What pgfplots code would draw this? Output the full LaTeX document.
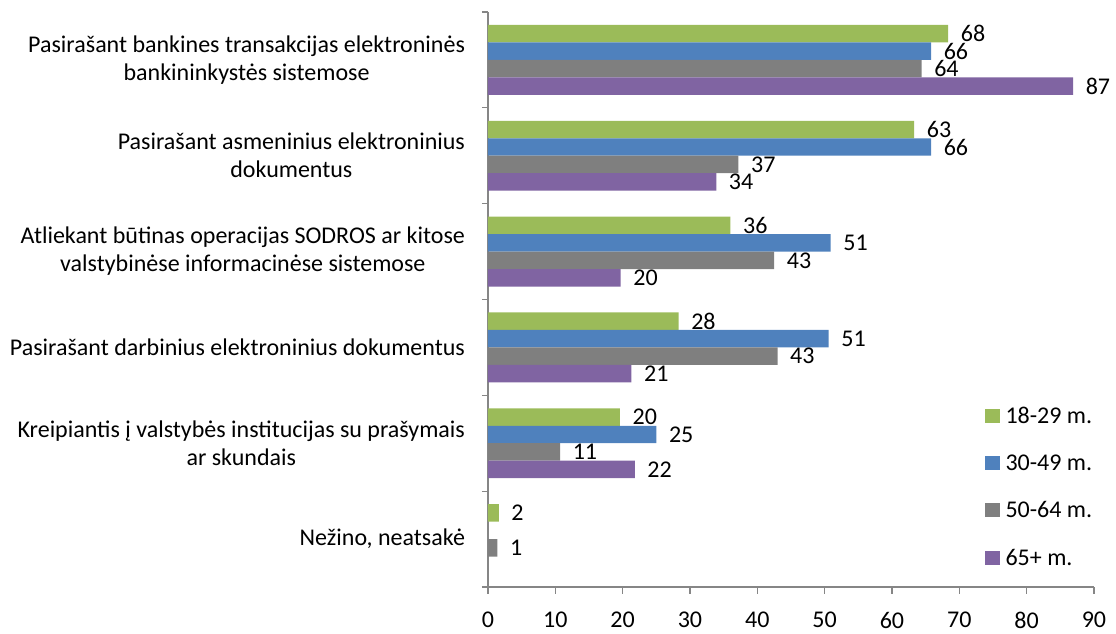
\documentclass[border=0pt]{standalone}
\usepackage{pgfplots}
\pgfplotsset{compat=1.18}
\usepackage{fontspec}
\setmainfont{Carlito}
\definecolor{cg}{HTML}{9BBB59}
\definecolor{cb}{HTML}{4F81BD}
\definecolor{cy}{HTML}{7F7F7F}
\definecolor{cp}{HTML}{8064A2}
\definecolor{axc}{HTML}{868686}
\begin{document}
\begin{tikzpicture}
\useasboundingbox (-366pt,-35.25pt) rectangle (471pt,440.25pt);
\begin{axis}[
  at={(0pt,0pt)}, anchor=south west,
  scale only axis, width=454.5pt, height=431.25pt,
  xbar, bar width=13.1pt,
  xmin=0, xmax=90, ymin=-0.5, ymax=5.5,
  xtick={0,10,...,90},
  ytick={0,...,5},
  minor ytick={-0.5,0.5,...,5.5},
  yticklabels={{Nežino, neatsakė},{Kreipiantis į valstybės institucijas su prašymais\\ar skundais},{Pasirašant darbinius elektroninius dokumentus},{Atliekant būtinas operacijas SODROS ar kitose\\valstybinėse informacinėse sistemose},{Pasirašant asmeninius elektroninius\\dokumentus},{Pasirašant bankines transakcijas elektroninės\\bankininkystės sistemose}},
  axis x line*=bottom, axis y line*=left,
  axis line style={axc, line width=0.9pt},
  tick align=outside,
  major tick length=5.25pt, minor tick length=4.5pt,
  major y tick style={draw=none},
  minor y tick style={axc, line width=0.9pt},
  major x tick style={axc, line width=0.9pt},
  /pgf/number format/assume math mode=true,
  ticklabel style={font=\fontsize{18}{21}\selectfont, text=black},
  yticklabel style={align=center, font=\fontsize{18}{21}\selectfont, xshift=-8.5pt},
  xticklabel style={yshift=-10pt},
  point meta=explicit symbolic,
  nodes near coords,
  nodes near coords style={font=\fontsize{18}{21}\selectfont, anchor=west, xshift=6pt, text=black},
  legend style={at={(0.8195,0.314)}, anchor=north west, draw=none, fill=none,
    font=\fontsize{18}{21}\selectfont, row sep=22pt, inner sep=0pt,
    nodes={inner sep=0pt}},
  legend cell align=left,
  legend image code/.code={\fill[#1] (0pt,-5.25pt) rectangle (11pt,5.25pt); \path (15.5pt,0pt);},
]
\addplot[fill=cg, draw=none, bar shift=19.65pt] table[x=x,y=y,meta=l] {
x y l
68.35 5 68
63.3 4 63
36.0 3 36
28.3 2 28
19.6 1 20
1.6 0 2
};
\addplot[fill=cb, draw=none, bar shift=6.55pt] table[x=x,y=y,meta=l] {
x y l
65.8 5 66
65.8 4 66
50.9 3 51
50.6 2 51
25.0 1 25
};
\addplot[fill=cy, draw=none, bar shift=-6.55pt] table[x=x,y=y,meta=l] {
x y l
64.4 5 64
37.2 4 37
42.5 3 43
43.0 2 43
10.7 1 11
1.4 0 1
};
\addplot[fill=cp, draw=none, bar shift=-19.65pt] table[x=x,y=y,meta=l] {
x y l
86.9 5 87
33.9 4 34
19.7 3 20
21.3 2 21
21.8 1 22
};
\legend{18-29 m.,30-49 m.,50-64 m.,65+ m.}
\end{axis}
\end{tikzpicture}
\end{document}
